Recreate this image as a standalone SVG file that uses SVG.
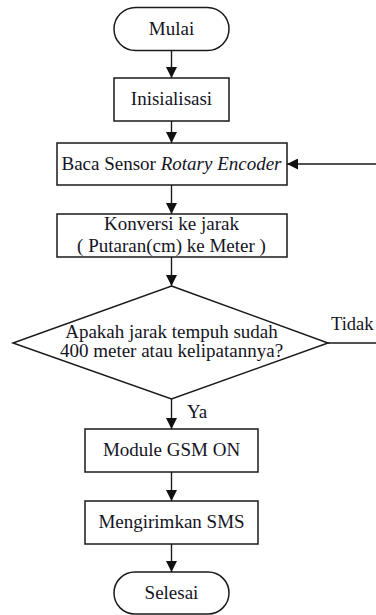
<svg xmlns="http://www.w3.org/2000/svg" width="376" height="615" viewBox="0 0 376 615">
<defs>
<marker id="ah" markerWidth="11" markerHeight="11" refX="11" refY="5.5" orient="auto" markerUnits="userSpaceOnUse">
<path d="M0,0 L11,5.5 L0,11 Z" fill="#111"/>
</marker>
<style>
.s{fill:#fff;stroke:#1a1a1a;stroke-width:1.5}
text{font-family:'Liberation Serif','Times New Roman',serif;font-size:19px;fill:#14141e}
.t{text-anchor:middle}
.c{fill:none;stroke:#1a1a1a;stroke-width:1.4}
</style>
</defs>
<rect width="376" height="615" fill="#fff"/>
<g id="connectors">
<path class="c" d="M171.5,50 V78" marker-end="url(#ah)"/>
<path class="c" d="M171.5,121 V143" marker-end="url(#ah)"/>
<path class="c" d="M171.5,185 V214" marker-end="url(#ah)"/>
<path class="c" d="M171.5,257 V286" marker-end="url(#ah)"/>
<path class="c" d="M171.5,399 V429" marker-end="url(#ah)"/>
<path class="c" d="M171.5,472 V501" marker-end="url(#ah)"/>
<path class="c" d="M171.5,544 V572" marker-end="url(#ah)"/>
<path class="c" d="M328,343 H378 V164 H287" marker-end="url(#ah)"/>
<text x="331" y="330" style="font-size:18.5px">Tidak</text>
<text x="187" y="418">Ya</text>
</g>
<g id="mulai">
<rect class="s" x="114" y="7.5" width="115" height="43" rx="21.5"/>
<text class="t" x="171.5" y="35">Mulai</text>
</g>
<g id="inisialisasi">
<rect class="s" x="114" y="78" width="115" height="43"/>
<text class="t" x="171.5" y="105">Inisialisasi</text>
</g>
<g id="baca">
<rect class="s" x="57" y="143" width="230" height="42"/>
<text class="t" x="171.5" y="170">Baca Sensor <tspan font-style="italic">Rotary Encoder</tspan></text>
</g>
<g id="konversi">
<rect class="s" x="57" y="214" width="230" height="43"/>
<text class="t" x="171.5" y="229.5">Konversi ke jarak</text>
<text class="t" x="171.5" y="252">( Putaran(cm) ke Meter )</text>
</g>
<g id="keputusan">
<polygon class="s" points="171.5,286 328,343 171.5,399 13,343"/>
<text class="t" x="171.5" y="338">Apakah jarak tempuh sudah</text>
<text class="t" x="171.5" y="357">400 meter atau kelipatannya?</text>
</g>
<g id="gsm">
<rect class="s" x="85" y="429" width="173" height="43"/>
<text class="t" x="171.5" y="456">Module GSM ON</text>
</g>
<g id="sms">
<rect class="s" x="85" y="501" width="173" height="43"/>
<text class="t" x="171.5" y="528">Mengirimkan SMS</text>
</g>
<g id="selesai">
<rect class="s" x="114" y="572" width="115" height="42" rx="21"/>
<text class="t" x="171.5" y="599">Selesai</text>
</g>
</svg>
